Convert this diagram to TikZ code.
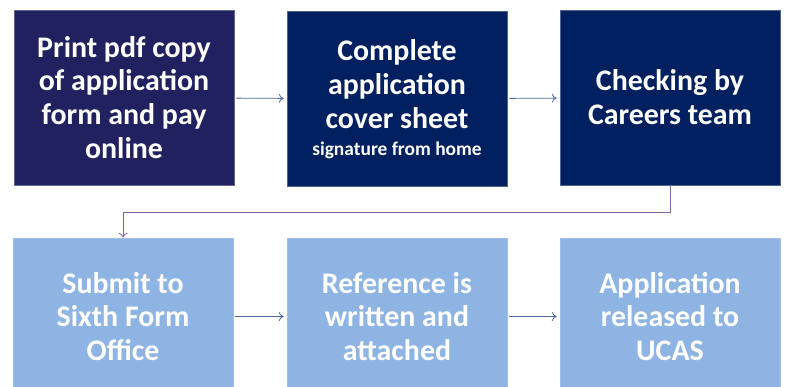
\documentclass[tikz,border=0pt]{standalone}
\usepackage{fontspec}
\setmainfont{Carlito}
\usetikzlibrary{arrows.meta,positioning,calc}

\definecolor{stepviolet}{RGB}{33,33,96}
\definecolor{stepnavy}{RGB}{0,32,96}
\definecolor{steplight}{RGB}{142,180,227}
\definecolor{arrowblue}{RGB}{74,106,160}
\definecolor{linkpurple}{RGB}{128,100,162}

\begin{document}
\begin{tikzpicture}[x=1bp,y=-1bp,
  stepbox/.style={minimum width=220bp, minimum height=175bp, inner sep=0pt,
    align=center, text=white, font=\bfseries\fontsize{30}{34}\selectfont},
  darkbox/.style={stepbox, fill=#1, draw=#1!70!white, line width=0.6pt},
  lightbox/.style={stepbox, minimum height=157bp, fill=steplight, draw=steplight!85!white, line width=0.6pt},
  flow/.style={-{To[length=5pt,width=9pt]}, draw=arrowblue, line width=0.8pt, shorten <=2pt, shorten >=3pt}
]
\useasboundingbox (0,0) rectangle (785,386);

% Top row
\node[darkbox=stepviolet] (print) at (124,97.5) {Print pdf copy\\of application\\form and pay\\online};
\node[darkbox=stepnavy] (cover) at (397,99) {Complete\\application\\cover sheet\\[-7pt]{\fontsize{19.5}{22}\selectfont signature from home}};
\node[darkbox=stepnavy] (check) at (670,97.5) {Checking by\\Careers team};

% Bottom row
\node[lightbox] (submit) at (123,316.5) {Submit to\\Sixth Form\\Office};
\node[lightbox] (refer) at (397,316.5) {Reference is\\written and\\attached};
\node[lightbox] (ucas) at (670,316.5) {Application\\released to\\UCAS};

% Arrows
\draw[flow] (print) -- (cover);
\draw[flow] (cover) -- (check);
\draw[flow] (submit) -- (refer);
\draw[flow] (refer) -- (ucas);

% Link down to second row
\coordinate (turn) at ($(check.south)+(0,27)$);
\draw[-{To[length=5pt,width=9pt]}, draw=linkpurple, line width=0.8pt] (check.south) -- (turn) -| (submit.north);

\end{tikzpicture}
\end{document}
